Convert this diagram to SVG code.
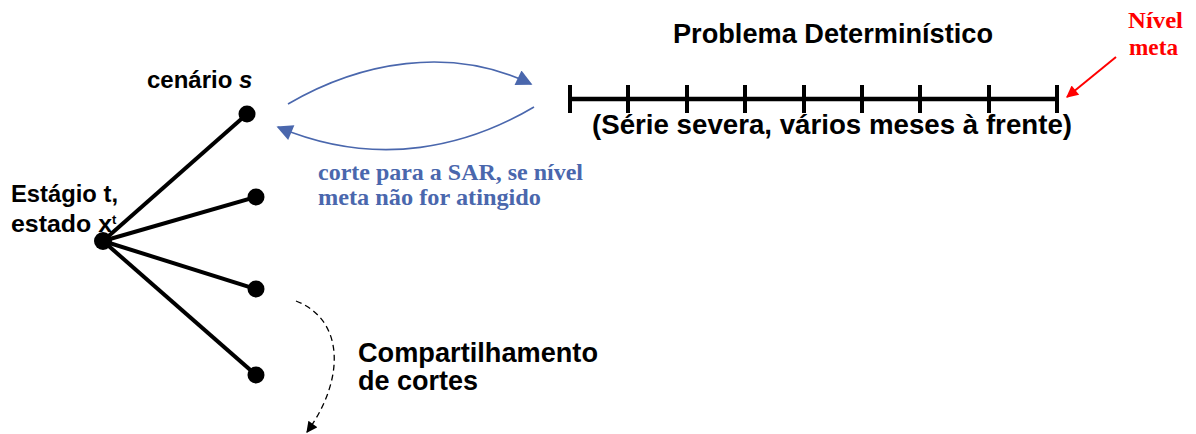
<svg xmlns="http://www.w3.org/2000/svg" width="1196" height="434" viewBox="0 0 1196 434">
<defs>
<style>
.lbl{font-family:"Liberation Sans",Arial,sans-serif;font-weight:bold;fill:#000}
.blue{font-family:"Liberation Serif","Times New Roman",serif;font-weight:bold;fill:#4a67ad}
.red{font-family:"Liberation Serif","Times New Roman",serif;font-weight:bold;fill:#ff0000}
.edge{stroke:#000;stroke-width:4;fill:none}
.dot{fill:#000}
.tick{stroke:#000;stroke-width:4}
</style>
<marker id="ab" viewBox="0 0 10 10" refX="9" refY="5" markerWidth="20" markerHeight="16" markerUnits="userSpaceOnUse" orient="auto"><path d="M0,0 L10,5 L0,10 z" fill="#4a67ad"/></marker>
<marker id="ar" viewBox="0 0 10 10" refX="9" refY="5" markerWidth="14" markerHeight="12" markerUnits="userSpaceOnUse" orient="auto"><path d="M0,0 L10,5 L0,10 z" fill="#ff0000"/></marker>
<marker id="ak" viewBox="0 0 10 10" refX="9" refY="5" markerWidth="12" markerHeight="11" markerUnits="userSpaceOnUse" orient="auto"><path d="M0,0 L10,5 L0,10 z" fill="#000"/></marker>
</defs>
<g id="connectors">
<line class="edge" x1="103" y1="241" x2="247" y2="114"/>
<line class="edge" x1="103" y1="241" x2="256" y2="197"/>
<line class="edge" x1="103" y1="241" x2="256" y2="289"/>
<line class="edge" x1="103" y1="241" x2="256" y2="375"/>
<path d="M288,104 C360,62 450,45 531,84" stroke="#4a67ad" stroke-width="1.6" fill="none" marker-end="url(#ab)"/>
<path d="M534,107 C470,145 380,170 278,127" stroke="#4a67ad" stroke-width="1.6" fill="none" marker-end="url(#ab)"/>
<path d="M296,301 C345,320 345,380 307,432" stroke="#000" stroke-width="1.3" stroke-dasharray="6,4" fill="none" marker-end="url(#ak)"/>
<line x1="1116" y1="57" x2="1067" y2="97" stroke="#ff0000" stroke-width="2" marker-end="url(#ar)"/>
</g>
<g id="root"><circle class="dot" cx="103" cy="241" r="9"/>
<text class="lbl" x="11" y="202" font-size="24" textLength="107" lengthAdjust="spacingAndGlyphs">Estágio t,</text>
<text class="lbl" x="11" y="232" font-size="24" textLength="101" lengthAdjust="spacingAndGlyphs">estado x</text>
<text class="lbl" x="112" y="224" font-size="13">t</text>
</g>
<g id="scenario1"><circle class="dot" cx="247" cy="114" r="8.5"/>
<text class="lbl" x="147" y="88" font-size="24">cenário <tspan font-style="italic">s</tspan></text>
</g>
<g id="scenario2"><circle class="dot" cx="256" cy="197" r="8.5"/></g>
<g id="scenario3"><circle class="dot" cx="256" cy="289" r="8.5"/></g>
<g id="scenario4"><circle class="dot" cx="256" cy="375" r="8.5"/></g>
<g id="cut-label">
<text class="blue" x="318" y="180" font-size="24" textLength="265" lengthAdjust="spacingAndGlyphs">corte para a SAR, se nível</text>
<text class="blue" x="318" y="205" font-size="24" textLength="223" lengthAdjust="spacingAndGlyphs">meta não for atingido</text>
</g>
<g id="timeline">
<text class="lbl" x="673" y="43" font-size="27" textLength="320" lengthAdjust="spacingAndGlyphs">Problema Determinístico</text>
<line x1="568" y1="99" x2="1058" y2="99" stroke="#000" stroke-width="4.5"/>
<line class="tick" x1="570" y1="85" x2="570" y2="113"/>
<line class="tick" x1="628" y1="85" x2="628" y2="113"/>
<line class="tick" x1="687" y1="85" x2="687" y2="113"/>
<line class="tick" x1="745" y1="85" x2="745" y2="113"/>
<line class="tick" x1="804" y1="85" x2="804" y2="113"/>
<line class="tick" x1="862" y1="85" x2="862" y2="113"/>
<line class="tick" x1="920" y1="85" x2="920" y2="113"/>
<line class="tick" x1="989" y1="85" x2="989" y2="113"/>
<line class="tick" x1="1057" y1="85" x2="1057" y2="113"/>
<text class="lbl" x="592" y="134" font-size="27" textLength="480" lengthAdjust="spacingAndGlyphs">(Série severa, vários meses à frente)</text>
</g>
<g id="target-level">
<text class="red" x="1128" y="28" font-size="24" textLength="55" lengthAdjust="spacingAndGlyphs">Nível</text>
<text class="red" x="1129" y="55" font-size="24" textLength="49" lengthAdjust="spacingAndGlyphs">meta</text>
</g>
<g id="sharing-label">
<text class="lbl" x="358" y="362" font-size="27" textLength="240" lengthAdjust="spacingAndGlyphs">Compartilhamento</text>
<text class="lbl" x="358" y="390" font-size="27">de cortes</text>
</g>
</svg>
